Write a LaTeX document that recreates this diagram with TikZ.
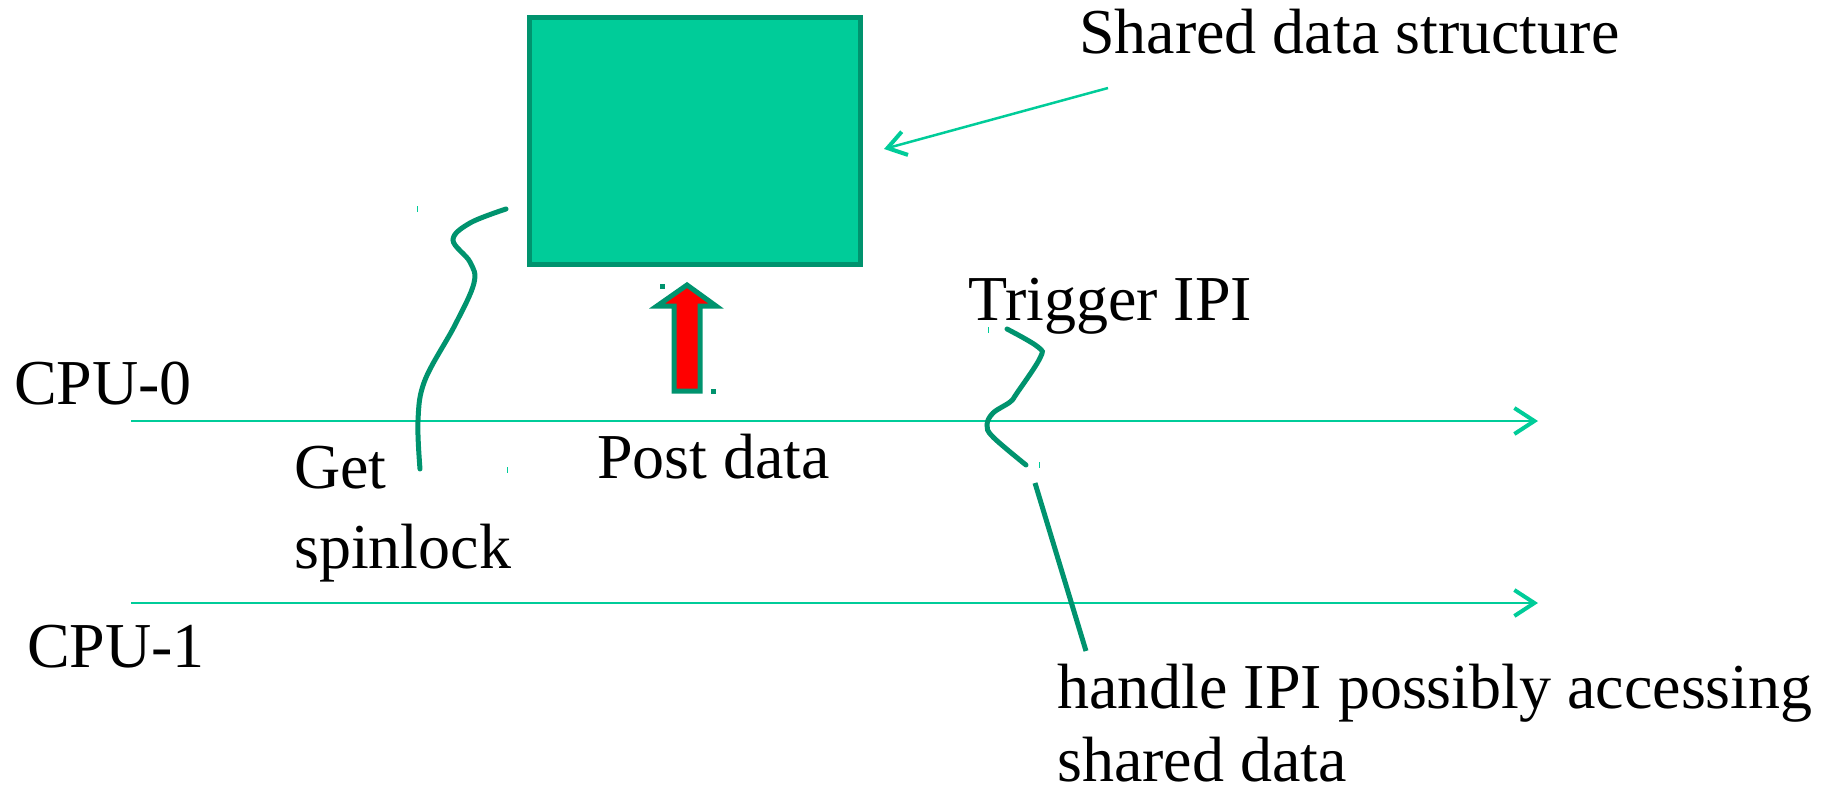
\documentclass[tikz,border=0pt]{standalone}
\usepackage{fontspec}
\setmainfont{Liberation Serif}
\usepackage{tikz}
\usetikzlibrary{arrows.meta}
\definecolor{sdgreen}{HTML}{00CC99}
\definecolor{sddark}{HTML}{00936E}
\tikzset{
  lbl/.style={anchor=base west, inner sep=0pt, font=\fontsize{64}{80}\selectfont},
  timeline/.style={sdgreen, line width=2.5pt, -{Straight Barb[length=20pt,width=26pt,line width=4pt]}},
  pointer/.style={sdgreen, line width=2.5pt, -{Straight Barb[length=18pt,width=24pt,line width=4pt]}},
  wiggle/.style={sddark, line width=5pt, line cap=round},
  databox/.style={draw=sddark, fill=sdgreen, line width=5pt, minimum width=331pt, minimum height=247pt, inner sep=0pt},
  postarrow/.style={draw=sddark, fill=red, line width=5pt}
}
\begin{document}
\begin{tikzpicture}[x=1pt,y=-1pt]
\useasboundingbox (0,0) rectangle (1836,792);
% shared data
\node[databox] (sds) at (695,141) {};
\node[lbl] (sdslbl) at (1079,53) {Shared data structure};
\coordinate (sdsfrom) at (1108,88);
\coordinate (sdsto) at (884,149);
\draw[pointer] (sdsfrom) -- (sdsto);
% timelines
\node[lbl] (cpu0) at (14,404) {CPU-0};
\node[lbl] (cpu1) at (27,667) {CPU-1};
\coordinate (t0s) at (131,421);
\coordinate (t0e) at (1538,421);
\coordinate (t1s) at (131,603);
\coordinate (t1e) at (1538,603);
\draw[timeline] (t0s) -- (t0e);
\draw[timeline] (t1s) -- (t1e);
% post data
\draw[postarrow] (674,391) -- (674,306) -- (657,306) -- (687,285) -- (716,306) -- (700,306) -- (700,391) -- cycle;
\node[lbl] (post) at (597,478) {Post data};
% get spinlock
\node[lbl] (get) at (294,488) {Get};
\node[lbl] (spin) at (294,568) {spinlock};
\draw[wiggle] plot[smooth, tension=0.6] coordinates {(506,209) (470,223) (453,240) (470,262) (474,283) (455,325) (425,380) (418,420) (420,469)};
% IPI
\node[lbl] (trig) at (968,320) {Trigger IPI};
\draw[wiggle] plot[smooth, tension=0.6] coordinates {(1007,329) (1038,347) (1040,358) (1017,393) (1010,402) (993,413) (987,425) (993,437) (1026,465)};
\coordinate (hfrom) at (1035,483);
\coordinate (hto) at (1086,651);
\draw[wiggle, line cap=butt] (hfrom) -- (hto);
\node[lbl] (handle) at (1057,708) {handle IPI possibly accessing};
\node[lbl, text depth=0pt] (handle2) at (1057,781) {shared data};
% stray marks
\fill[sddark] (660,284) rectangle (665,289);
\fill[sddark] (711,389) rectangle (716,394);
\foreach \x/\y in {417/209, 507/470, 988/330, 1039/465}
  \draw[sdgreen, line width=1pt] (\x,\y-3) -- (\x,\y+3);
\end{tikzpicture}
\end{document}
